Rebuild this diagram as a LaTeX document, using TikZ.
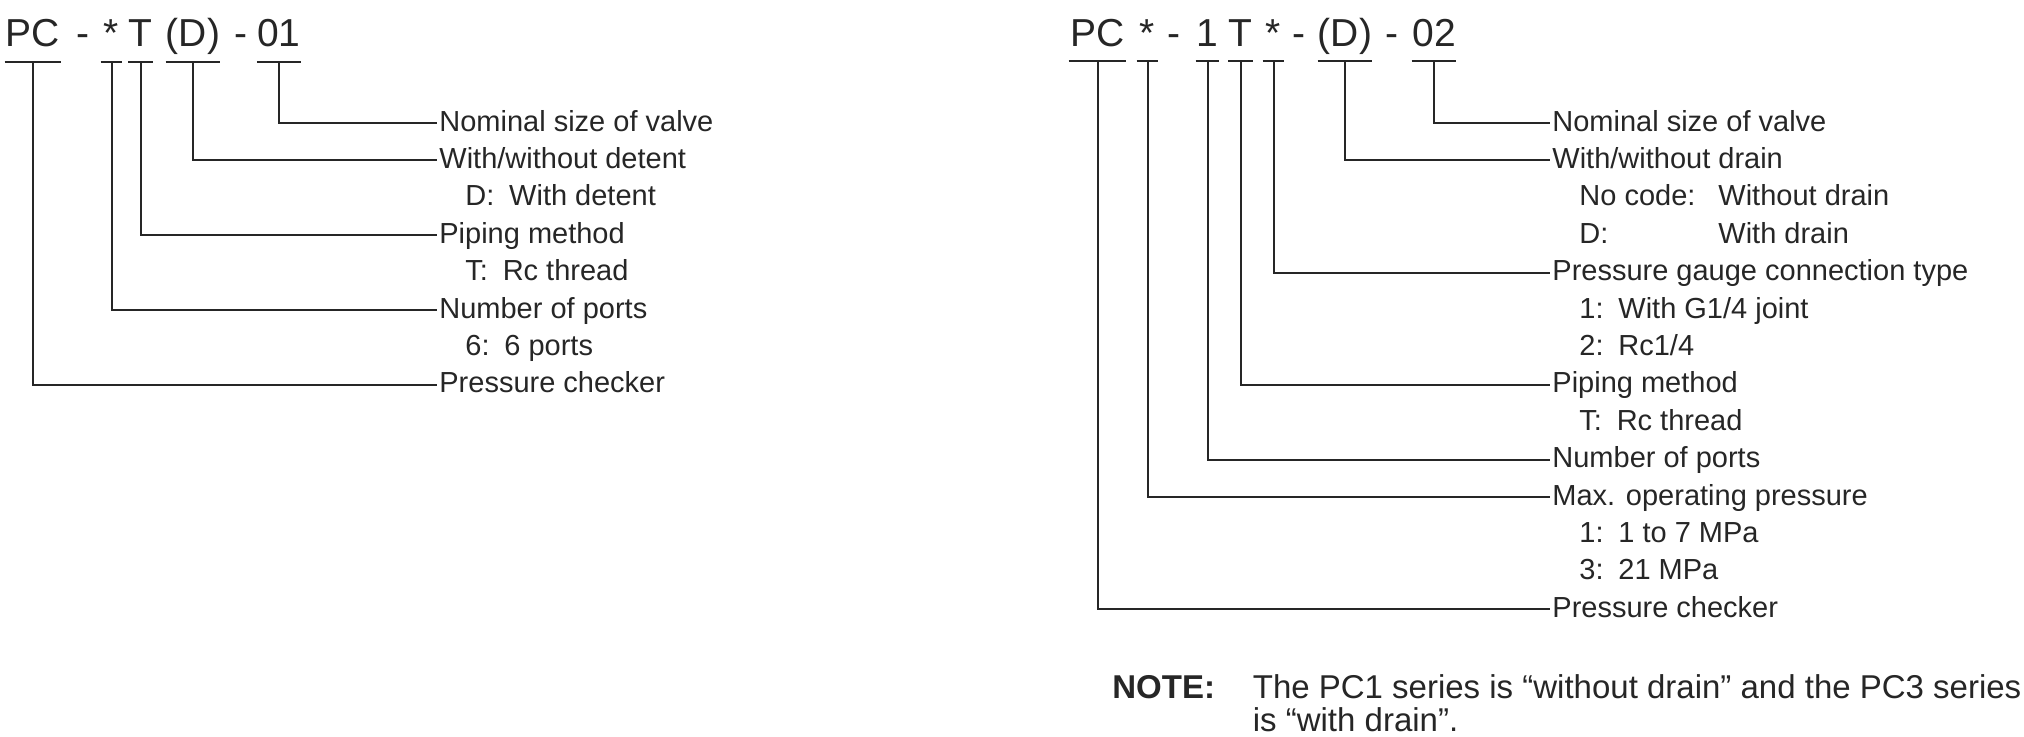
\documentclass[tikz,border=0pt]{standalone}
\usepackage{fontspec}
\setmainfont{Liberation Sans}
\usetikzlibrary{positioning}

\begin{document}
\begin{tikzpicture}[x=0.5pt, y=-0.5pt, color=black!85,
    code/.style={inner sep=0pt, text depth=7.5pt, anchor=base,
      font=\fontsize{19.5pt}{22pt}\selectfont},
    item/.style={inner xsep=1pt, inner ysep=0pt, text height=10.4pt,
      text depth=2.3pt, anchor=west, font=\fontsize{14.5pt}{17pt}\selectfont},
    lead/.style={line width=1pt},
    remark/.style={inner sep=0pt, anchor=base west,
      font=\fontsize{16.5pt}{17pt}\selectfont}]
  \useasboundingbox (0,0) rectangle (2024,736);

  % PC-*T(D)-01
  \node[code, minimum width=28pt] (apc) at (33,46.5) {PC};
  \node[code] (ad1) at (83,46.5) {-};
  \node[code, minimum width=10.5pt] (ast) at (111.5,46.5) {*};
  \node[code, minimum width=10.5pt] (at) at (140.5,46.5) {T};
  \node[code, minimum width=25pt] (ad) at (193,46.5) {(D)};
  \node[code] (ad2) at (241,46.5) {-};
  \node[code, minimum width=19pt] (a01) at (279,46.5) {01};

  \node[item] (asize) at (437,123) {Nominal size of valve};
  \node[item] (adet) at (437,160.4) {With/without detent};
  \node[item] (adk) at (463,197.8) {D:};
  \node[item, right=5pt of adk] (adv) {With detent};
  \node[item] (apipe) at (437,235.2) {Piping method};
  \node[item] (atk) at (463,272.6) {T:};
  \node[item, right=5pt of atk] (atv) {Rc thread};
  \node[item] (aports) at (437,310) {Number of ports};
  \node[item] (a6k) at (463,347.4) {6:};
  \node[item, right=5pt of a6k] (a6v) {6 ports};
  \node[item] (aname) at (437,384.8) {Pressure checker};

  \draw[lead] (apc.south west) -- (apc.south east) (ast.south west) -- (ast.south east)
    (at.south west) -- (at.south east) (ad.south west) -- (ad.south east)
    (a01.south west) -- (a01.south east);
  \draw[lead] (a01.south) |- (asize.west);
  \draw[lead] (ad.south) |- (adet.west);
  \draw[lead] (at.south) |- (apipe.west);
  \draw[lead] (ast.south) |- (aports.west);
  \draw[lead] (apc.south) |- (aname.west);

  % PC*-1T*-(D)-02
  \node[code, minimum width=28.5pt] (bpc) at (1097.5,46) {PC};
  \node[code, minimum width=10.5pt] (bst1) at (1147.5,46) {*};
  \node[code] (bd1) at (1174,46) {-};
  \node[code, minimum width=11.5pt] (bone) at (1207.5,46) {1};
  \node[code, minimum width=11.5pt] (bt) at (1240.5,46) {T};
  \node[code, minimum width=10.5pt] (bst2) at (1273.5,46) {*};
  \node[code] (bd2) at (1298.5,46) {-};
  \node[code, minimum width=25pt] (bd) at (1345,46) {(D)};
  \node[code] (bd3) at (1392,46) {-};
  \node[code, minimum width=22pt] (b02) at (1434,46) {02};

  \node[item] (bsize) at (1550,123) {Nominal size of valve};
  \node[item] (bdrain) at (1550,160.4) {With/without drain};
  \node[item] (bnk) at (1577,197.8) {No code:};
  \node[item] (bnv) at (1716,197.8) {Without drain};
  \node[item] (bdk) at (1577,235.2) {D:};
  \node[item] (bdv) at (bnv.west |- bdk.west) {With drain};
  \node[item] (bgauge) at (1550,272.6) {Pressure gauge connection type};
  \node[item] (bg1k) at (1577,310) {1:};
  \node[item, right=5pt of bg1k] (bg1v) {With G1/4 joint};
  \node[item] (bg2k) at (1577,347.4) {2:};
  \node[item, right=5pt of bg2k] (bg2v) {Rc1/4};
  \node[item] (bpipe) at (1550,384.8) {Piping method};
  \node[item] (btk) at (1577,422.2) {T:};
  \node[item, right=5pt of btk] (btv) {Rc thread};
  \node[item] (bports) at (1550,459.6) {Number of ports};
  \node[item] (bpres) at (1550,497) {Max. operating pressure};
  \node[item] (bp1k) at (1577,534.4) {1:};
  \node[item, right=5pt of bp1k] (bp1v) {1 to 7 MPa};
  \node[item] (bp3k) at (1577,571.8) {3:};
  \node[item, right=5pt of bp3k] (bp3v) {21 MPa};
  \node[item] (bname) at (1550,609.2) {Pressure checker};

  \draw[lead] (bpc.south west) -- (bpc.south east) (bst1.south west) -- (bst1.south east)
    (bone.south west) -- (bone.south east) (bt.south west) -- (bt.south east)
    (bst2.south west) -- (bst2.south east) (bd.south west) -- (bd.south east)
    (b02.south west) -- (b02.south east);
  \draw[lead] (b02.south) |- (bsize.west);
  \draw[lead] (bd.south) |- (bdrain.west);
  \draw[lead] (bst2.south) |- (bgauge.west);
  \draw[lead] (bt.south) |- (bpipe.west);
  \draw[lead] (bone.south) |- (bports.west);
  \draw[lead] (bst1.south) |- (bpres.west);
  \draw[lead] (bpc.south) |- (bname.west);

  % note
  \node[remark, font=\fontsize{16.5pt}{17pt}\selectfont\bfseries] (note) at (1112,698) {NOTE:};
  \node[remark, base right=18.5pt of note] (n1) {The PC1 series is “without drain” and the PC3 series};
  \node[remark] (n2) at ([yshift=-16.75pt]n1.base west) {is “with drain”.};
\end{tikzpicture}
\end{document}
